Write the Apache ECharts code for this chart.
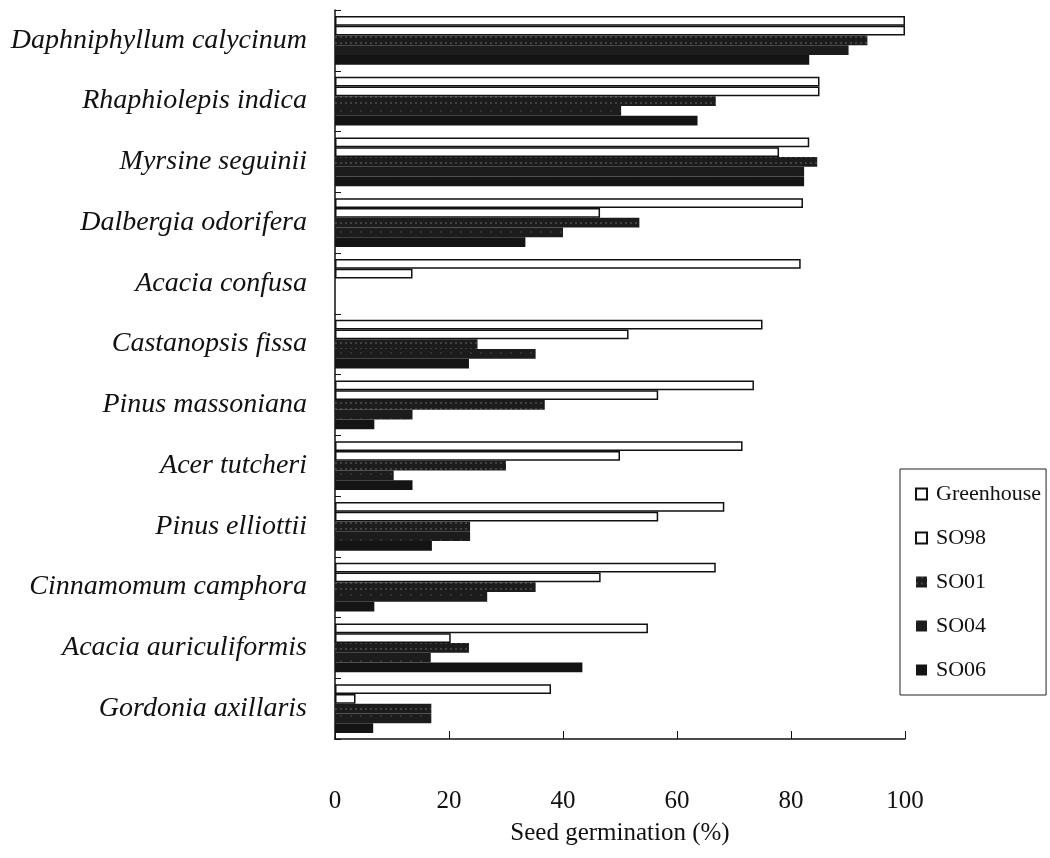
<!DOCTYPE html>
<html>
<head>
<meta charset="utf-8">
<script src="https://cdn.jsdelivr.net/npm/echarts@6/dist/echarts.min.js"></script>
<style>
  html, body { margin: 0; padding: 0; background: #fff; }
  #chart { width: 1050px; height: 858px; }
</style>
</head>
<body>
<div id="chart"></div>
<script>
// species, top to bottom
const species = [
  'Daphniphyllum calycinum', 'Rhaphiolepis indica', 'Myrsine seguinii', 'Dalbergia odorifera',
  'Acacia confusa', 'Castanopsis fissa', 'Pinus massoniana', 'Acer tutcheri',
  'Pinus elliottii', 'Cinnamomum camphora', 'Acacia auriculiformis', 'Gordonia axillaris'
];
const xTicks = [0, 20, 40, 60, 80, 100];

// seed germination (%)
const greenhouse = [100, 85, 83.2, 82.1, 81.7, 75, 73.5, 71.5, 68.3, 66.8, 54.9, 37.9];
const so98 = [100, 85, 77.9, 46.5, 13.6, 51.5, 56.7, 50, 56.7, 46.6, 20.3, 3.6];
const so01 = [93.4, 66.8, 84.6, 53.4, 0, 25, 36.8, 30, 23.7, 35.2, 23.5, 16.9];
const so04 = [90.1, 50.2, 82.3, 40, 0, 35.2, 13.6, 10.3, 23.7, 26.7, 16.8, 16.9];
const so06 = [83.2, 63.6, 82.3, 33.4, 0, 23.5, 6.9, 13.6, 17, 6.9, 43.4, 6.7];

const chart = echarts.init(document.getElementById('chart'), null, { renderer: 'canvas' });

const serif = 'Liberation Serif';
const hollow = { color: '#fff', borderColor: '#111', borderWidth: 1.5 };

function bar(name, data, itemStyle) {
  return {
    name: name,
    type: 'bar',
    data: data,
    barGap: '0%',
    barCategoryGap: '20%',
    itemStyle: itemStyle,
    animation: false
  };
}

chart.setOption({
  backgroundColor: '#fff',
  textStyle: { fontFamily: serif, color: '#111' },
  grid: { left: 335, right: 145, top: 10, bottom: 119 },
  legend: {
    orient: 'vertical',
    left: 900,
    top: 469,
    padding: [14, 5, 14, 15],
    itemGap: 22,
    itemWidth: 11,
    itemHeight: 11,
    icon: 'rect',
    borderColor: '#222',
    borderWidth: 1,
    textStyle: { fontFamily: serif, fontSize: 22, color: '#111', padding: [0, 0, 0, 4] },
    data: ['Greenhouse', 'SO98', 'SO01', 'SO04', 'SO06']
  },
  xAxis: {
    type: 'value',
    min: xTicks[0],
    max: xTicks[xTicks.length - 1],
    interval: 20,
    name: 'Seed germination (%)',
    nameLocation: 'middle',
    nameGap: 82,
    nameTextStyle: { fontFamily: serif, fontSize: 25, color: '#111' },
    axisLine: { show: true, lineStyle: { color: '#111', width: 1.5 } },
    axisTick: { show: true, inside: true, length: 8, lineStyle: { color: '#111' } },
    axisLabel: { margin: 50, fontFamily: serif, fontSize: 25, color: '#111' },
    splitLine: { show: false }
  },
  yAxis: {
    type: 'category',
    data: species,
    inverse: true,
    axisLine: { show: true, lineStyle: { color: '#111', width: 1.5 } },
    axisTick: { show: true, inside: true, length: 6, lineStyle: { color: '#111' } },
    axisLabel: { margin: 28, fontFamily: serif, fontStyle: 'italic', fontSize: 28, color: '#111' }
  },
  series: [
    bar('Greenhouse', greenhouse, hollow),
    bar('SO98', so98, hollow),
    bar('SO01', so01, {
      color: '#1c1c1c',
      decal: { symbol: 'rect', symbolSize: 0.6, color: 'rgba(255,255,255,0.55)', dashArrayX: [2, 3], dashArrayY: [2, 4] }
    }),
    bar('SO04', so04, {
      color: '#1c1c1c',
      decal: { symbol: 'rect', symbolSize: 0.5, color: 'rgba(255,255,255,0.4)', dashArrayX: [2, 8], dashArrayY: [2, 9] }
    }),
    bar('SO06', so06, { color: '#141414' })
  ]
});
</script>
</body>
</html>
